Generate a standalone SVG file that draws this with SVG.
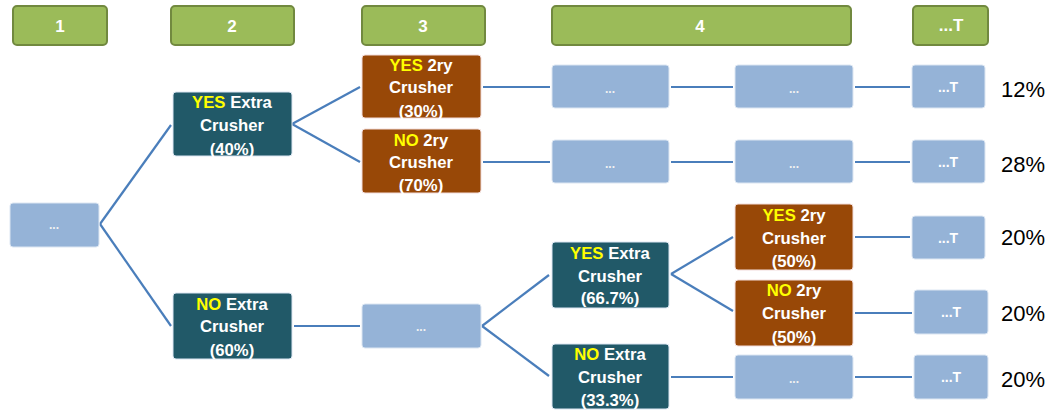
<svg xmlns="http://www.w3.org/2000/svg" width="1048" height="410" viewBox="0 0 1048 410">
<style>
.hdr{fill:#9BBB59;stroke:#71893F;stroke-width:2}
.hdrt{font-family:"Liberation Sans",Arial,sans-serif;font-size:17px;font-weight:bold;fill:#FFFFFF;text-anchor:middle}
.blue{fill:#95B3D7;stroke:#DCE6F2;stroke-width:1}
.teal{fill:#215968;stroke:#DCE6F2;stroke-width:1}
.brown{fill:#984807;stroke:#F2DCDB;stroke-width:1}
.t{font-family:"Liberation Sans",Arial,sans-serif;font-size:16.7px;font-weight:bold;fill:#FFFFFF;text-anchor:middle}
.y{fill:#FFFF00}
.dots{font-family:"Liberation Sans",Arial,sans-serif;font-size:12px;font-weight:bold;fill:#F2F2F2;text-anchor:middle}
.tt{font-family:"Liberation Sans",Arial,sans-serif;font-size:14px;font-weight:bold;fill:#FFFFFF;text-anchor:middle}
.pct{font-family:"Liberation Sans",Arial,sans-serif;font-size:22px;fill:#000000}
.c{stroke:#4A7EBB;stroke-width:2.2;fill:none}
</style>
<g id="headers">
<g id="h1"><rect class="hdr" x="13" y="6" width="94" height="39" rx="4"/><text class="hdrt" x="60" y="32">1</text></g>
<g id="h2"><rect class="hdr" x="171" y="6" width="123" height="39" rx="4"/><text class="hdrt" x="232" y="32">2</text></g>
<g id="h3"><rect class="hdr" x="362" y="6" width="123" height="39" rx="4"/><text class="hdrt" x="423" y="32">3</text></g>
<g id="h4"><rect class="hdr" x="552" y="6" width="299" height="39" rx="4"/><text class="hdrt" x="700" y="32">4</text></g>
<g id="h5"><rect class="hdr" x="913" y="6" width="75" height="39" rx="4"/><text class="hdrt" x="951" y="31">...T</text></g>
</g>
<g id="connectors">
<line class="c" x1="100" y1="224" x2="171" y2="125"/>
<line class="c" x1="100" y1="224" x2="171" y2="326"/>
<line class="c" x1="292" y1="124" x2="360" y2="87"/>
<line class="c" x1="292" y1="124" x2="360" y2="162"/>
<line class="c" x1="483" y1="87" x2="550" y2="87"/>
<line class="c" x1="671" y1="87" x2="733" y2="87"/>
<line class="c" x1="855" y1="87" x2="910" y2="87"/>
<line class="c" x1="483" y1="162" x2="550" y2="162"/>
<line class="c" x1="671" y1="162" x2="733" y2="162"/>
<line class="c" x1="855" y1="162" x2="910" y2="162"/>
<line class="c" x1="294" y1="326" x2="360" y2="326"/>
<line class="c" x1="482" y1="326" x2="549" y2="275"/>
<line class="c" x1="482" y1="326" x2="549" y2="376"/>
<line class="c" x1="671" y1="274" x2="733" y2="237"/>
<line class="c" x1="671" y1="274" x2="733" y2="311"/>
<line class="c" x1="855" y1="237" x2="910" y2="237"/>
<line class="c" x1="855" y1="313" x2="912" y2="313"/>
<line class="c" x1="671" y1="377" x2="733" y2="377"/>
<line class="c" x1="855" y1="377" x2="912" y2="377"/>
</g>
<g id="start"><rect class="blue" x="10" y="203" width="89" height="44" rx="3"/><text class="dots" x="54" y="229">...</text></g>
<g id="yesExtra40"><rect class="teal" x="173" y="92" width="119" height="64" rx="3"/>
<text class="t" x="232" y="108"><tspan class="y">YES</tspan> Extra</text><text class="t" x="232" y="131">Crusher</text><text class="t" x="232" y="155">(40%)</text></g>
<g id="noExtra60"><rect class="teal" x="173" y="293" width="119" height="66" rx="3"/>
<text class="t" x="232" y="310"><tspan class="y">NO</tspan> Extra</text><text class="t" x="232" y="332">Crusher</text><text class="t" x="232" y="356">(60%)</text></g>
<g id="yes2ry30"><rect class="brown" x="362" y="55" width="119" height="63" rx="3"/>
<text class="t" x="421" y="71"><tspan class="y">YES</tspan> 2ry</text><text class="t" x="421" y="93">Crusher</text><text class="t" x="421" y="117">(30%)</text></g>
<g id="no2ry70"><rect class="brown" x="362" y="129" width="119" height="64" rx="3"/>
<text class="t" x="421" y="146"><tspan class="y">NO</tspan> 2ry</text><text class="t" x="421" y="168">Crusher</text><text class="t" x="421" y="191">(70%)</text></g>
<g id="mid"><rect class="blue" x="362" y="304" width="119" height="44" rx="3"/><text class="dots" x="421" y="331">...</text></g>
<g id="r1a"><rect class="blue" x="552" y="65" width="117" height="43" rx="3"/><text class="dots" x="610" y="93">...</text></g>
<g id="r1b"><rect class="blue" x="735" y="65" width="118" height="43" rx="3"/><text class="dots" x="794" y="93">...</text></g>
<g id="r1t"><rect class="blue" x="912" y="65" width="73" height="43" rx="3"/><text class="tt" x="948" y="92">...T</text></g>
<g id="r2a"><rect class="blue" x="552" y="140" width="117" height="43" rx="3"/><text class="dots" x="610" y="168">...</text></g>
<g id="r2b"><rect class="blue" x="735" y="140" width="118" height="43" rx="3"/><text class="dots" x="794" y="168">...</text></g>
<g id="r2t"><rect class="blue" x="912" y="140" width="73" height="43" rx="3"/><text class="tt" x="948" y="167">...T</text></g>
<g id="yesExtra667"><rect class="teal" x="552" y="242" width="117" height="66" rx="3"/>
<text class="t" x="610" y="259"><tspan class="y">YES</tspan> Extra</text><text class="t" x="610" y="282">Crusher</text><text class="t" x="610" y="304">(66.7%)</text></g>
<g id="noExtra333"><rect class="teal" x="552" y="344" width="117" height="65" rx="3"/>
<text class="t" x="610" y="360"><tspan class="y">NO</tspan> Extra</text><text class="t" x="610" y="383">Crusher</text><text class="t" x="610" y="406">(33.3%)</text></g>
<g id="yes2ry50"><rect class="brown" x="735" y="204" width="118" height="66" rx="3"/>
<text class="t" x="794" y="221"><tspan class="y">YES</tspan> 2ry</text><text class="t" x="794" y="244">Crusher</text><text class="t" x="794" y="267">(50%)</text></g>
<g id="no2ry50"><rect class="brown" x="735" y="280" width="118" height="66" rx="3"/>
<text class="t" x="794" y="296"><tspan class="y">NO</tspan> 2ry</text><text class="t" x="794" y="319">Crusher</text><text class="t" x="794" y="343">(50%)</text></g>
<g id="r5b"><rect class="blue" x="735" y="355" width="118" height="44" rx="3"/><text class="dots" x="794" y="383">...</text></g>
<g id="r3t"><rect class="blue" x="912" y="216" width="73" height="43" rx="3"/><text class="tt" x="948" y="243">...T</text></g>
<g id="r4t"><rect class="blue" x="914" y="290" width="74" height="44" rx="3"/><text class="tt" x="951" y="317">...T</text></g>
<g id="r5t"><rect class="blue" x="914" y="355" width="74" height="44" rx="3"/><text class="tt" x="951" y="382">...T</text></g>
<g id="percents">
<text class="pct" x="1001" y="97">12%</text>
<text class="pct" x="1001" y="172">28%</text>
<text class="pct" x="1001" y="245">20%</text>
<text class="pct" x="1001" y="321">20%</text>
<text class="pct" x="1001" y="387">20%</text>
</g>
</svg>
